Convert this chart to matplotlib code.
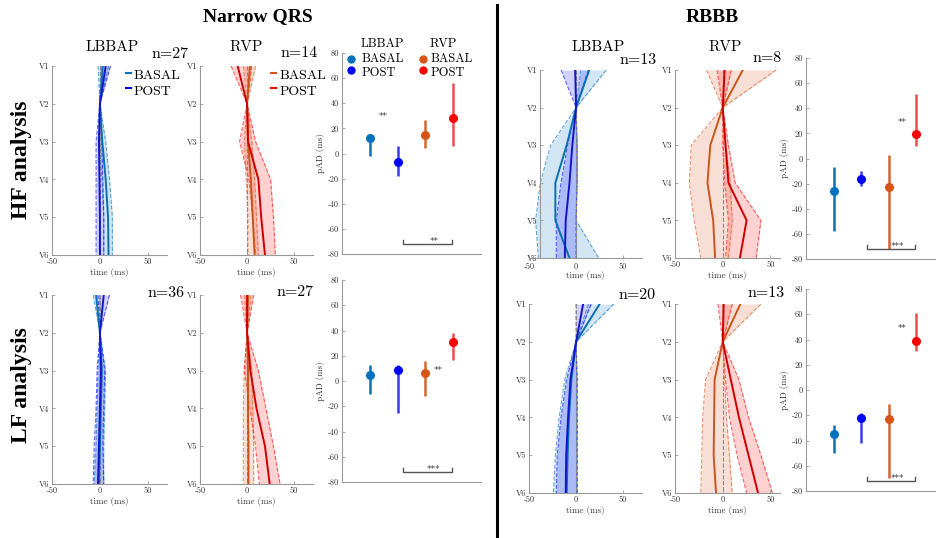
import matplotlib
matplotlib.use('Agg')
import matplotlib.pyplot as plt
from matplotlib.lines import Line2D

W, H = 936, 538
plt.rcParams['font.family'] = ['cmr10', 'DejaVu Serif']
plt.rcParams['axes.unicode_minus'] = False
plt.rcParams['axes.formatter.use_mathtext'] = False

# ---------------- data ----------------
leads = ['V1', 'V2', 'V3', 'V4', 'V5', 'V6']
lead_pos = [1, 2, 3, 4, 5, 6]
time_ticks = [-50, 0, 50]
pad_ticks = [-80, -60, -40, -20, 0, 20, 40, 60, 80]
pad_groups = ['LBBAP BASAL', 'LBBAP POST', 'RVP BASAL', 'RVP POST']
pad_x = [1, 2, 3, 4]

# Narrow QRS - HF - LBBAP
nh_lb_basal_mean = [3, 0, 2.5, 6, 8.5, 9]
nh_lb_basal_lo = [-2, 0, -1, 2, 4, 4]
nh_lb_basal_hi = [9, 0, 6, 10, 13, 13]
nh_lb_post_mean = [6, 0, -1, -0.5, 0, 0]
nh_lb_post_lo = [1, 0, -4, -4, -4, -4]
nh_lb_post_hi = [11, 0, 2, 3, 4, 4]
# Narrow QRS - HF - RVP
nh_rv_basal_mean = [3, 0, 1, 4, 6, 8]
nh_rv_basal_lo = [-4, 0, -3, -1, 1, 1]
nh_rv_basal_hi = [9, 0, 5, 8, 10, 12]
nh_rv_post_mean = [-10, 0, 1, 12, 15, 19]
nh_rv_post_lo = [-17, 0, -8, 2, 6, 9]
nh_rv_post_hi = [5, 0, 9, 25, 28, 30]
# RBBB - HF - LBBAP
rh_lb_basal_mean = [14, 0, -10, -22, -22, -7]
rh_lb_basal_lo = [5, 0, -27, -38, -43, -40]
rh_lb_basal_hi = [32, 0, 1, 1, 0, 24]
rh_lb_post_mean = [-1, 0, -4, -7, -11, -12]
rh_lb_post_lo = [-16, 0, -9, -16, -21, -21]
rh_lb_post_hi = [13, 0, 1, 1, 0, 0]
# RBBB - HF - RVP
rh_rv_basal_mean = [21, 0, -13, -16, -10, -8]
rh_rv_basal_lo = [-17, 0, -33, -35, -30, -23]
rh_rv_basal_hi = [56, 0, 3, 8, 10, 6]
rh_rv_post_mean = [2, 0, 3, 6, 25, 18]
rh_rv_post_lo = [-6, 0, 0, 2, 6, 3]
rh_rv_post_hi = [9, 0, 6, 13, 40, 35]
# Narrow QRS - LF - LBBAP
nl_lb_basal_mean = [-4, 0, 2, 1, 0, -1]
nl_lb_basal_lo = [-7, 0, -2, -3, -4, -6]
nl_lb_basal_hi = [0, 0, 6, 5, 4, 4]
nl_lb_post_mean = [4, 0, 1, 0, -1, -2]
nl_lb_post_lo = [-2, 0, -3, -4, -6, -7]
nl_lb_post_hi = [10, 0, 5, 4, 3, 4]
# Narrow QRS - LF - RVP
nl_rv_basal_mean = [1, 0, 1, 1, 1.5, 1.5]
nl_rv_basal_lo = [-3, 0, -3, -4, -4, -4]
nl_rv_basal_hi = [4, 0, 5, 6, 7, 7]
nl_rv_post_mean = [0, 0, 3.5, 10, 19, 24]
nl_rv_post_lo = [-7, 0, -3, 3, 9, 13]
nl_rv_post_hi = [7, 0, 12, 20, 28, 35]
# RBBB - LF - LBBAP
rl_lb_basal_mean = [25, 0, -5, -7.5, -9, -10]
rl_lb_basal_lo = [13, 0, -12, -18, -22, -24]
rl_lb_basal_hi = [40, 0, 1, 1, 1, 1]
rl_lb_post_mean = [7.5, 0, -6, -8.5, -10.5, -11]
rl_lb_post_lo = [0, 0, -10, -16, -20, -21]
rl_lb_post_hi = [16, 0, 1, 1, 1, 1]
# RBBB - LF - RVP
rl_rv_basal_mean = [18.5, 0, -8.5, -9, -9.5, -7]
rl_rv_basal_lo = [0, 0, -18, -21, -22, -23]
rl_rv_basal_hi = [40, 0, 2, 4, 7, 10]
rl_rv_post_mean = [1, 0, 8.5, 17, 27, 37]
rl_rv_post_lo = [-5, 0, 3, 7, 15, 25]
rl_rv_post_hi = [10, 0, 17, 27, 40, 52]

# pAD (median, lower, upper) per group
nh_pad_med = [12, -7, 14.5, 28.5]
nh_pad_lo = [-2, -18, 4, 6]
nh_pad_hi = [15, 6, 27, 56]
nl_pad_med = [5, 9, 6.5, 31]
nl_pad_lo = [-10, -25, -12, 17]
nl_pad_hi = [13, 13, 16, 38]
rh_pad_med = [-26, -16, -23, 19.5]
rh_pad_lo = [-58, -22, -72, 10]
rh_pad_hi = [-7, -10, 3, 51]
rl_pad_med = [-35, -22, -23, 39]
rl_pad_lo = [-50, -42, -70, 31]
rl_pad_hi = [-28, -18, -11, 61]

# ---------------- style ----------------
C_LB_BASAL = '#0072BD'
C_LB_POST = '#0000FF'
C_RV_BASAL = '#D95319'
C_RV_POST = '#FF0000'
LINE_COL = {C_LB_BASAL: '#0a6fb0', C_LB_POST: '#1414c8', C_RV_BASAL: '#c8561c', C_RV_POST: '#cc0000'}
BAR_COL = {C_LB_BASAL: '#0f6fb3', C_LB_POST: '#3a3af0', C_RV_BASAL: '#d9622a', C_RV_POST: '#e85050'}
SPINE = '#9a9a9a'
TXT = '#333333'

fig = plt.figure(figsize=(W / 100, H / 100), dpi=100)


def add_ax(l, t, r, b):
    return fig.add_axes([l / W, 1 - b / H, (r - l) / W, (b - t) / H])


def style(ax):
    for s in ['top', 'right']:
        ax.spines[s].set_visible(False)
    for s in ['left', 'bottom']:
        ax.spines[s].set_color(SPINE)
        ax.spines[s].set_linewidth(0.8)
    ax.tick_params(direction='in', length=2, width=0.6, colors=SPINE,
                   labelcolor=TXT, labelsize=6, pad=2)
    ax.patch.set_alpha(0)


def line_panel(box, series, xlim, spine_x=None):
    ax = add_ax(*box)
    for mean, lo, hi, col in series:
        ax.fill_betweenx(lead_pos, lo, hi, color=col, alpha=0.18, lw=0)
        ax.plot(lo, lead_pos, '--', color=col, lw=0.8, alpha=0.6)
        ax.plot(hi, lead_pos, '--', color=col, lw=0.8, alpha=0.6)
    ax.plot([0, 0], [1, 6], '--', color='#8a8a8a', lw=0.8)
    for mean, lo, hi, col in series:
        ax.plot(mean, lead_pos, color=LINE_COL[col], lw=1.4)
    ax.set_xlim(*xlim)
    ax.set_ylim(6, 1)
    ax.set_yticks(lead_pos)
    ax.set_yticklabels(leads)
    ax.set_xticks(time_ticks)
    ax.set_xticklabels([str(t) for t in time_ticks])
    ax.set_xlabel('time (ms)', fontsize=6.5, color=TXT, labelpad=1)
    style(ax)
    if spine_x is not None:
        ax.spines['left'].set_position(('data', spine_x))
        ax.tick_params(axis='x', pad=3.5)
        ax.xaxis.labelpad = 0
    return ax


def pad_panel(box, med, lo, hi, star, bracket_txt):
    ax = add_ax(*box)
    cols = [C_LB_BASAL, C_LB_POST, C_RV_BASAL, C_RV_POST]
    for x, m, a, b, c in zip(pad_x, med, lo, hi, cols):
        ax.plot([x, x], [a, b], color=BAR_COL[c], lw=1.8, solid_capstyle='butt')
        ax.plot([x], [m], 'o', color=c, ms=5.5, mec=c)
    ax.set_xlim(0, 5)
    ax.set_ylim(-80, 80)
    ax.set_yticks(pad_ticks)
    ax.set_yticklabels([str(t) for t in pad_ticks])
    ax.set_xticks([])
    ax.set_ylabel('pAD (ms)', fontsize=6.5, color=TXT, labelpad=2)
    style(ax)
    ax.spines['left'].set_bounds(-80, 80)
    sx, sy = star
    ax.text(sx, sy - 4.5, '**', fontsize=6.5, color='#444444', ha='center',
            va='baseline', family='DejaVu Sans')
    ax.plot([2.2, 2.2, 3.95, 3.95], [-69, -72, -72, -69], color='#555555', lw=1)
    ax.text(3.3, -71.8, bracket_txt, fontsize=6.5, color='#444444', ha='center',
            va='baseline', family='DejaVu Sans')
    return ax


# ---------- Narrow QRS ----------
line_panel((52, 66, 167, 255),
           [(nh_lb_basal_mean, nh_lb_basal_lo, nh_lb_basal_hi, C_LB_BASAL),
            (nh_lb_post_mean, nh_lb_post_lo, nh_lb_post_hi, C_LB_POST)], (-50, 70))
line_panel((200, 66, 313, 255),
           [(nh_rv_basal_mean, nh_rv_basal_lo, nh_rv_basal_hi, C_RV_BASAL),
            (nh_rv_post_mean, nh_rv_post_lo, nh_rv_post_hi, C_RV_POST)], (-50, 70))
line_panel((52, 295, 167, 484),
           [(nl_lb_basal_mean, nl_lb_basal_lo, nl_lb_basal_hi, C_LB_BASAL),
            (nl_lb_post_mean, nl_lb_post_lo, nl_lb_post_hi, C_LB_POST)], (-50, 70))
line_panel((200, 295, 313, 484),
           [(nl_rv_basal_mean, nl_rv_basal_lo, nl_rv_basal_hi, C_RV_BASAL),
            (nl_rv_post_mean, nl_rv_post_lo, nl_rv_post_hi, C_RV_POST)], (-50, 70))
pad_panel((342, 53, 481, 254), nh_pad_med, nh_pad_lo, nh_pad_hi, (1.5, 32), '**')
pad_panel((342, 280, 481, 482), nl_pad_med, nl_pad_lo, nl_pad_hi, (3.45, 11), '***')

# ---------- RBBB ----------
line_panel((529, 70, 642, 258),
           [(rh_lb_basal_mean, rh_lb_basal_lo, rh_lb_basal_hi, C_LB_BASAL),
            (rh_lb_post_mean, rh_lb_post_lo, rh_lb_post_hi, C_LB_POST)], (-50, 70), spine_x=-38)
line_panel((675, 70, 780, 258),
           [(rh_rv_basal_mean, rh_rv_basal_lo, rh_rv_basal_hi, C_RV_BASAL),
            (rh_rv_post_mean, rh_rv_post_lo, rh_rv_post_hi, C_RV_POST)], (-50, 60))
line_panel((529, 304, 642, 493),
           [(rl_lb_basal_mean, rl_lb_basal_lo, rl_lb_basal_hi, C_LB_BASAL),
            (rl_lb_post_mean, rl_lb_post_lo, rl_lb_post_hi, C_LB_POST)], (-50, 70))
line_panel((675, 304, 780, 493),
           [(rl_rv_basal_mean, rl_rv_basal_lo, rl_rv_basal_hi, C_RV_BASAL),
            (rl_rv_post_mean, rl_rv_post_lo, rl_rv_post_hi, C_RV_POST)], (-50, 60))
pad_panel((806, 58, 944, 259), rh_pad_med, rh_pad_lo, rh_pad_hi, (3.5, 31), '***')
pad_panel((806, 289, 944, 491), rl_pad_med, rl_pad_lo, rl_pad_hi, (3.5, 51), '***')


# ---------- texts ----------
def ftext(x, y, s, **kw):
    fig.text(x / W, 1 - y / H, s, **kw)


def fline(x0, x1, y, col, lw=1.5):
    fig.add_artist(Line2D([x0 / W, x1 / W], [1 - y / H, 1 - y / H], color=col, lw=lw))


def fdot(x, y, col):
    fig.add_artist(Line2D([x / W], [1 - y / H], marker='o', ms=5, color=col, ls='none'))


bold_serif = dict(family='Liberation Serif', fontweight='bold', color='black',
                  ha='center', va='center')
ftext(258, 17, 'Narrow QRS', fontsize=14, **bold_serif)
ftext(712, 17, 'RBBB', fontsize=14, **bold_serif)
ftext(22, 160, 'HF analysis', fontsize=17, rotation=90, **bold_serif)
ftext(22, 385, 'LF analysis', fontsize=17, rotation=90, **bold_serif)

fig.add_artist(Line2D([497 / W, 497 / W], [1 - 5 / H, 0], color='black', lw=2.2))

ct = dict(color='black', ha='center', va='center')
ftext(112, 47, 'LBBAP', fontsize=11, **ct)
ftext(170, 54, 'n=27', fontsize=11.5, **ct)
ftext(246, 47, 'RVP', fontsize=11, **ct)
ftext(299, 53, 'n=14', fontsize=11.5, **ct)
ftext(598, 47, 'LBBAP', fontsize=11, **ct)
ftext(638, 60, 'n=13', fontsize=11.5, **ct)
ftext(725, 47, 'RVP', fontsize=11, **ct)
ftext(767, 58, 'n=8', fontsize=11.5, **ct)
ftext(166, 293, 'n=36', fontsize=11.5, **ct)
ftext(295, 292, 'n=27', fontsize=11.5, **ct)
ftext(637, 295, 'n=20', fontsize=11.5, **ct)
ftext(766, 293, 'n=13', fontsize=11.5, **ct)

# line-panel legends
lt = dict(color='black', ha='left', va='center', fontsize=10)
fline(126, 131, 73, C_LB_BASAL)
ftext(134, 76, 'BASAL', **lt)
fline(126, 131, 88, C_LB_POST)
ftext(134, 92, 'POST', **lt)
fline(271, 276, 73, C_RV_BASAL)
ftext(280, 76, 'BASAL', **lt)
fline(271, 276, 88, C_RV_POST)
ftext(280, 92, 'POST', **lt)

# pAD legend
pl = dict(color='black', ha='left', va='center', fontsize=9)
ftext(361, 44, 'LBBAP', **pl)
ftext(430, 44, 'RVP', **pl)
fdot(351, 59, C_LB_BASAL)
ftext(362, 59, 'BASAL', **pl)
fdot(351, 70, C_LB_POST)
ftext(362, 73, 'POST', **pl)
fdot(423, 59, C_RV_BASAL)
ftext(431, 59, 'BASAL', **pl)
fdot(423, 70, C_RV_POST)
ftext(431, 73, 'POST', **pl)

fig.savefig('out.png', dpi=100)
